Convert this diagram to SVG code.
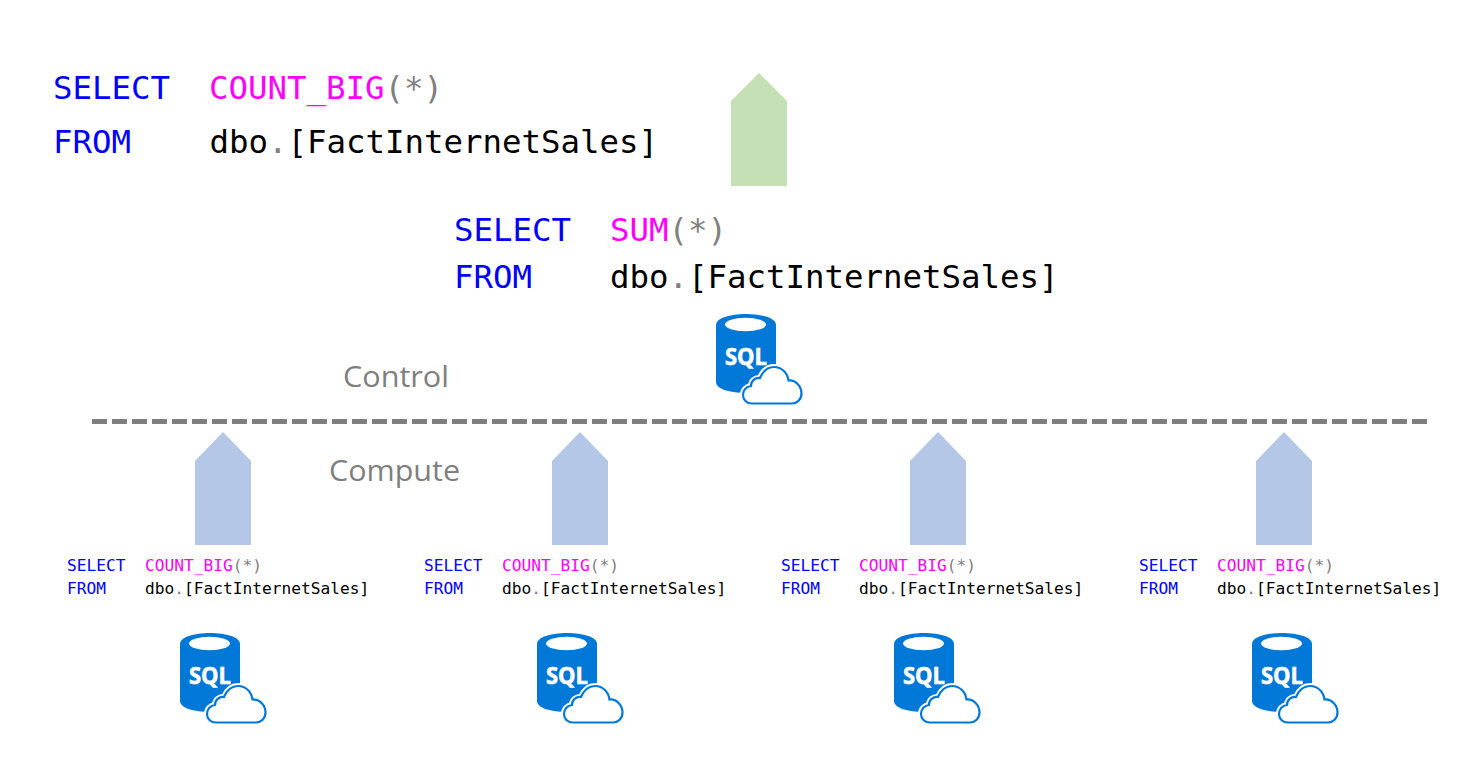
<svg xmlns="http://www.w3.org/2000/svg" width="1479" height="773" viewBox="0 0 1479 773">
<style>
.big{font:32.4px "DejaVu Sans Mono","Liberation Mono",monospace}
.sm{font:16.2px "DejaVu Sans Mono","Liberation Mono",monospace}
.k{fill:#0000ff}.f{fill:#ff00ff}.g{fill:#808080}.t{fill:#000}
.lbl{font:30px "Open Sans","Noto Sans",sans-serif;fill:#7f7f7f}
.green{fill:#c5e0b4}.blue{fill:#b4c7e7}
.sqlt{font:bold 23px "Open Sans","Liberation Sans",sans-serif;fill:#fff;stroke:#fff;stroke-width:.6}
</style>
<defs>
<symbol id="sql" width="90" height="92" viewBox="0 0 90 92" overflow="visible">
<path d="M0 11C0 4 14 0 30 0S60 4 60 11V68C60 75 46 79 30 79S0 75 0 68Z" fill="#0078d7"/>
<ellipse cx="29.500" cy="10.500" rx="20.500" ry="6.800" fill="#fff"/>
<text class="sqlt" x="30" y="51" text-anchor="middle" textLength="42" lengthAdjust="spacingAndGlyphs">SQL</text>
<path d="M36 89.500C30.500 89.500 27 85.500 27 81C27 76 30.500 72.500 35 72C35 67 39 63.500 44 64C47 57 52 53 58 53C66 53 71.500 59 72.500 66.500C80 66 85.500 72.500 85.500 79.500C85.500 85.500 81 89.500 76 89.500Z" fill="#fff" stroke="#fff" stroke-width="6"/>
<path d="M36 89.500C30.500 89.500 27 85.500 27 81C27 76 30.500 72.500 35 72C35 67 39 63.500 44 64C47 57 52 53 58 53C66 53 71.500 59 72.500 66.500C80 66 85.500 72.500 85.500 79.500C85.500 85.500 81 89.500 76 89.500Z" fill="#fff" stroke="#0078d7" stroke-width="2.200"/>
</symbol>
</defs>
<g id="connectors">
<path d="M92 421.500H1427" fill="none" stroke="#7f7f7f" stroke-width="5" stroke-dasharray="15 5"/>
</g>
<g id="query-top">
<text class="big" y="99"><tspan class="k" x="53">SELECT</tspan><tspan class="f" x="209">COUNT_BIG</tspan><tspan class="g">(*)</tspan></text>
<text class="big" y="153"><tspan class="k" x="53">FROM</tspan><tspan class="t" x="209.500">dbo</tspan><tspan class="g">.</tspan><tspan class="t">[FactInternetSales]</tspan></text>
</g>
<g id="arrow-result"><path class="green" d="M759 73L787 101V186H731V101Z"/></g>
<g id="query-control">
<text class="big" y="241"><tspan class="k" x="454">SELECT</tspan><tspan class="f" x="610">SUM</tspan><tspan class="g">(*)</tspan></text>
<text class="big" y="288"><tspan class="k" x="454">FROM</tspan><tspan class="t" x="610">dbo</tspan><tspan class="g">.</tspan><tspan class="t">[FactInternetSales]</tspan></text>
</g>
<g id="sql-control"><use href="#sql" x="716" y="314"/></g>
<g id="label-control"><text class="lbl" x="343" y="387" textLength="106" lengthAdjust="spacingAndGlyphs">Control</text></g>
<g id="label-compute"><text class="lbl" x="329" y="481" textLength="131" lengthAdjust="spacingAndGlyphs">Compute</text></g>
<g id="compute-1">
<path class="blue" d="M223 432L251 461V545H195V461Z"/>
<text class="sm" y="571"><tspan class="k" x="67">SELECT</tspan><tspan class="f" x="145">COUNT_BIG</tspan><tspan class="g">(*)</tspan></text>
<text class="sm" y="594"><tspan class="k" x="67">FROM</tspan><tspan class="t" x="145">dbo</tspan><tspan class="g">.</tspan><tspan class="t">[FactInternetSales]</tspan></text>
<use href="#sql" x="180" y="633"/>
</g>
<g id="compute-2">
<path class="blue" d="M580 432L608 461V545H552V461Z"/>
<text class="sm" y="571"><tspan class="k" x="424">SELECT</tspan><tspan class="f" x="502">COUNT_BIG</tspan><tspan class="g">(*)</tspan></text>
<text class="sm" y="594"><tspan class="k" x="424">FROM</tspan><tspan class="t" x="502">dbo</tspan><tspan class="g">.</tspan><tspan class="t">[FactInternetSales]</tspan></text>
<use href="#sql" x="537" y="633"/>
</g>
<g id="compute-3">
<path class="blue" d="M938 432L966 461V545H910V461Z"/>
<text class="sm" y="571"><tspan class="k" x="781">SELECT</tspan><tspan class="f" x="859">COUNT_BIG</tspan><tspan class="g">(*)</tspan></text>
<text class="sm" y="594"><tspan class="k" x="781">FROM</tspan><tspan class="t" x="859">dbo</tspan><tspan class="g">.</tspan><tspan class="t">[FactInternetSales]</tspan></text>
<use href="#sql" x="894" y="633"/>
</g>
<g id="compute-4">
<path class="blue" d="M1284 432L1312 461V545H1256V461Z"/>
<text class="sm" y="571"><tspan class="k" x="1139">SELECT</tspan><tspan class="f" x="1217">COUNT_BIG</tspan><tspan class="g">(*)</tspan></text>
<text class="sm" y="594"><tspan class="k" x="1139">FROM</tspan><tspan class="t" x="1217">dbo</tspan><tspan class="g">.</tspan><tspan class="t">[FactInternetSales]</tspan></text>
<use href="#sql" x="1252" y="633"/>
</g>
</svg>
